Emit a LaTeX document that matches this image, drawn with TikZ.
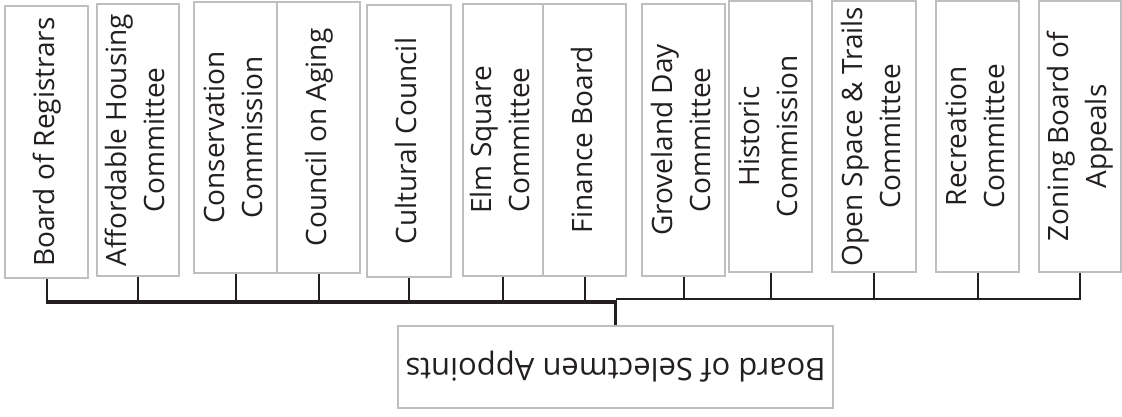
\documentclass[tikz,border=0pt]{standalone}
\usepackage{fontspec}
\setmainfont{Open Sans}
\definecolor{boxline}{HTML}{BFBFBF}
\definecolor{ink}{HTML}{231F20}
\newcommand{\vlab}[1]{\rotatebox{90}{\begin{tabular}{@{}c@{}}#1\end{tabular}}}
\begin{document}
\begin{tikzpicture}[x=1pt,y=-1pt,
  box/.style={draw=boxline, line width=1.4pt, fill=white, inner sep=0pt, text=ink,
    font=\fontsize{28}{38}\selectfont},
  stub/.style={draw=ink, line width=2pt},
  busthick/.style={draw=ink, line width=3.6pt},
  busthin/.style={draw=ink, line width=2.5pt},
  trunk/.style={draw=ink, line width=3pt}]
\useasboundingbox (0,0) rectangle (1122,417);
\node[box, minimum width=83, minimum height=272] (b1) at (46.5,142) {\vlab{Board of Registrars}};
\node[box, minimum width=82, minimum height=272] (b2) at (138,140) {\vlab{Affordable Housing\\Committee}};
\node[box, minimum width=83, minimum height=271] (b3) at (235.5,137.5) {\vlab{Conservation\\Commission}};
\node[box, minimum width=83, minimum height=271] (b4) at (318.5,137.5) {\vlab{Council on Aging}};
\node[box, minimum width=84, minimum height=272] (b5) at (409,141) {\vlab{Cultural Council}};
\node[box, minimum width=80, minimum height=272] (b6) at (503,140) {\vlab{Elm Square\\Committee}};
\node[box, minimum width=83, minimum height=272] (b7) at (584.5,140) {\vlab{Finance Board}};
\node[box, minimum width=83, minimum height=272] (b8) at (683.5,140) {\vlab{Groveland Day\\Committee}};
\node[box, minimum width=83, minimum height=271] (b9) at (770.5,136.5) {\vlab{Historic\\Commission}};
\node[box, minimum width=84, minimum height=271] (b10) at (874,136.5) {\vlab{Open Space \& Trails\\Committee}};
\node[box, minimum width=83, minimum height=271] (b11) at (977.5,136.5) {\vlab{Recreation\\Committee}};
\node[box, minimum width=82, minimum height=271] (b12) at (1080,136.5) {\vlab{Zoning Board of\\Appeals}};
\node[box, minimum width=435, minimum height=82, font=\fontsize{31}{38}\selectfont] (top) at (615.5,367) {\rotatebox{180}{Board of Selectmen Appoints}};
\coordinate (busL) at (0,302);
\coordinate (busR) at (0,299);
\foreach \n in {b1,b2,b3,b4,b5,b6,b7}{\draw[stub] (\n.south) -- (\n.south |- busL);}
\foreach \n in {b8,b9,b10,b11,b12}{\draw[stub] (\n.south) -- (\n.south |- busR);}
\draw[busthick] ([xshift=-1pt]b1.south |- busL) -- (top.north |- busL);
\draw[busthin] (top.north |- busR) -- ([xshift=1pt]b12.south |- busR);
\draw[trunk] (top.north) -- ([yshift=-1pt]top.north |- busR);
\end{tikzpicture}
\end{document}
